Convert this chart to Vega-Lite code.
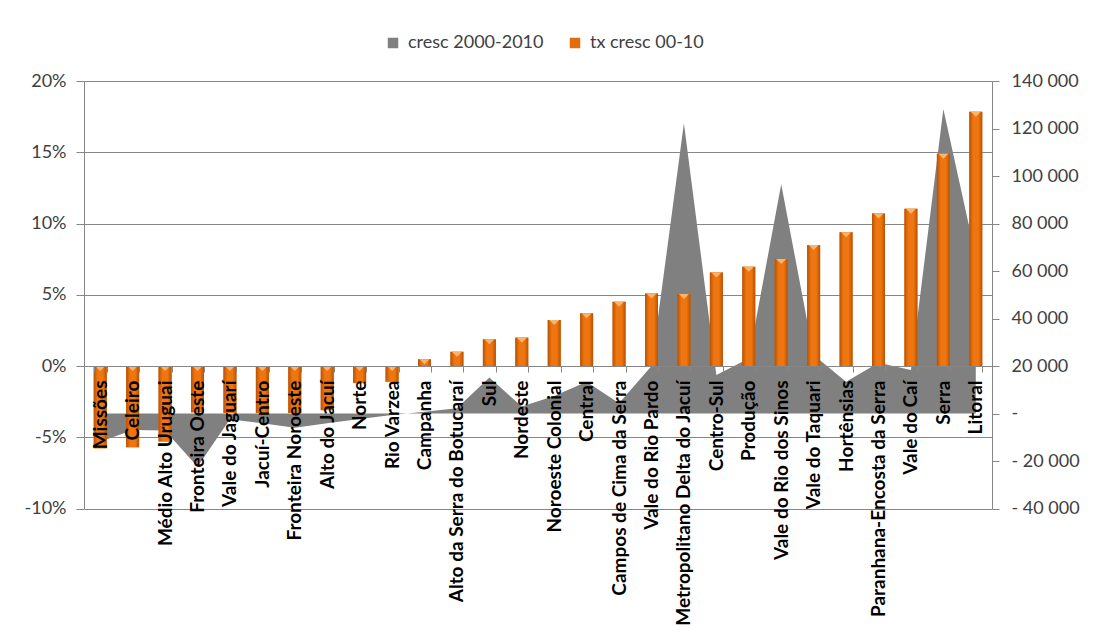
{
  "$schema": "https://vega.github.io/schema/vega-lite/v6.json",
  "width": 908,
  "height": 427.5,
  "autosize": {"type": "none"},
  "padding": {"left": 84, "top": 81, "right": 104, "bottom": 126.5},
  "background": "white",
  "config": {"view": {"stroke": null}, "font": "Lato"},
  "data": {
    "values": [
      {"regiao": "Missões", "cresc": -11900, "tx": -5.78},
      {"regiao": "Celeiro", "cresc": -6950, "tx": -5.71},
      {"regiao": "Médio Alto Uruguai", "cresc": -7200, "tx": -5.3},
      {"regiao": "Fronteira Oeste", "cresc": -22400, "tx": -3.25},
      {"regiao": "Vale do Jaguarí", "cresc": -2450, "tx": -3.3},
      {"regiao": "Jacuí-Centro", "cresc": -4150, "tx": -3.3},
      {"regiao": "Fronteira Noroeste", "cresc": -5950, "tx": -3.3},
      {"regiao": "Alto do Jacuí", "cresc": -4150, "tx": -3.1},
      {"regiao": "Norte", "cresc": -2300, "tx": -1.2},
      {"regiao": "Rio Varzea", "cresc": -630, "tx": -1.1},
      {"regiao": "Campanha", "cresc": 760, "tx": 0.47},
      {"regiao": "Alto da Serra do Botucaraí", "cresc": 2200, "tx": 1.0},
      {"regiao": "Sul", "cresc": 15200, "tx": 1.87},
      {"regiao": "Nordeste", "cresc": 2900, "tx": 1.99},
      {"regiao": "Noroeste Colonial", "cresc": 7400, "tx": 3.23},
      {"regiao": "Central", "cresc": 13400, "tx": 3.7},
      {"regiao": "Campos de Cima da Serra", "cresc": 4300, "tx": 4.51},
      {"regiao": "Vale do Rio Pardo", "cresc": 20000, "tx": 5.08},
      {"regiao": "Metropolitano Delta do Jacuí", "cresc": 122200, "tx": 5.05},
      {"regiao": "Centro-Sul", "cresc": 16200, "tx": 6.57},
      {"regiao": "Produção", "cresc": 23200, "tx": 6.97},
      {"regiao": "Vale do Rio dos Sinos", "cresc": 96500, "tx": 7.51},
      {"regiao": "Vale do Taquari", "cresc": 24600, "tx": 8.49},
      {"regiao": "Hortênsias", "cresc": 13400, "tx": 9.38},
      {"regiao": "Paranhana-Encosta da Serra", "cresc": 21400, "tx": 10.71},
      {"regiao": "Vale do Caí", "cresc": 18300, "tx": 11.04},
      {"regiao": "Serra", "cresc": 128200, "tx": 14.9},
      {"regiao": "Litoral", "cresc": 66000, "tx": 17.85}
    ]
  },
  "encoding": {
    "x": {
      "field": "regiao",
      "type": "nominal",
      "sort": null,
      "scale": {"paddingInner": 0.6, "paddingOuter": 0.3},
      "axis": {
        "title": null,
        "orient": "bottom",
        "offset": -142.5,
        "labelAngle": -90,
        "labelAlign": "right",
        "labelBaseline": "middle",
        "labelPadding": 8,
        "labelFontSize": 19,
        "labelFontWeight": "bold",
        "labelColor": "#000000",
        "labelLimit": 0,
        "labelOverlap": false,
        "tickBand": "extent",
        "tickSize": 6,
        "tickColor": "#868686",
        "domainColor": "#868686",
        "zindex": 1
      }
    }
  },
  "layer": [
    {
      "mark": {"type": "area", "interpolate": "linear"},
      "encoding": {
        "y": {
          "field": "cresc",
          "type": "quantitative",
          "scale": {"domain": [-40000, 140000], "nice": false, "zero": false},
          "axis": {
            "title": null,
            "orient": "right",
            "values": [-40000, -20000, 0, 20000, 40000, 60000, 80000, 100000, 120000, 140000],
            "grid": false,
            "tickSize": 7,
            "tickColor": "#868686",
            "domainColor": "#868686",
            "labelAlign": "left",
            "labelPadding": 12,
            "labelFontSize": 18,
            "labelColor": "#404040",
            "labelExpr": "datum.value == 0 ? '-' : (datum.value < 0 ? '-  ' + format(-datum.value / 1000, 'd') + ' 000' : '   ' + format(datum.value / 1000, 'd') + ' 000')"
          }
        },
        "color": {
          "datum": "cresc 2000-2010",
          "scale": {
            "domain": ["cresc 2000-2010", "tx cresc 00-10"],
            "range": ["#808080", "#E46C0A"]
          },
          "legend": {
            "title": null,
            "orient": "none",
            "legendX": 300,
            "legendY": -47,
            "direction": "horizontal",
            "symbolType": "square",
            "symbolSize": 110,
            "labelFontSize": 18,
            "labelColor": "#404040",
            "labelOffset": 6,
            "columnPadding": 22
          }
        }
      }
    },
    {
      "layer": [
        {
          "mark": {"type": "bar"},
          "encoding": {
            "y": {
              "field": "tx",
              "type": "quantitative",
              "scale": {"domain": [-10, 20], "nice": false, "zero": false},
              "axis": {
                "title": null,
                "orient": "left",
                "values": [-10, -5, 0, 5, 10, 15, 20],
                "grid": true,
                "gridColor": "#868686",
                "tickSize": 8,
                "tickColor": "#868686",
                "domainColor": "#868686",
                "labelPadding": 10,
                "labelFontSize": 18,
                "labelColor": "#404040",
                "labelExpr": "datum.value + '%'"
              }
            },
            "color": {"datum": "tx cresc 00-10"}
          }
        },
        {
          "mark": {
            "type": "bar",
            "fill": {
              "gradient": "linear",
              "x1": 0, "x2": 1, "y1": 0, "y2": 0,
              "stops": [
                {"offset": 0, "color": "#B65204"},
                {"offset": 0.3, "color": "#EE750F"},
                {"offset": 0.7, "color": "#EE750F"},
                {"offset": 1, "color": "#B65204"}
              ]
            }
          },
          "encoding": {"y": {"field": "tx", "type": "quantitative"}}
        },
        {
          "transform": [{"filter": "datum.tx > 0"}],
          "mark": {"type": "point", "shape": "M-1,0L1,0L0,1Z", "filled": true, "size": 100, "color": "#FAB46C", "opacity": 1, "strokeWidth": 0},
          "encoding": {"y": {"field": "tx", "type": "quantitative"}}
        },
        {
          "transform": [{"filter": "datum.tx <= 0"}],
          "mark": {"type": "point", "shape": "M-1,0L1,0L0,1Z", "filled": true, "size": 100, "color": "#FAB46C", "opacity": 1, "strokeWidth": 0},
          "encoding": {"y": {"datum": 0, "type": "quantitative"}}
        }
      ]
    }
  ],
  "resolve": {"scale": {"y": "independent"}}
}
